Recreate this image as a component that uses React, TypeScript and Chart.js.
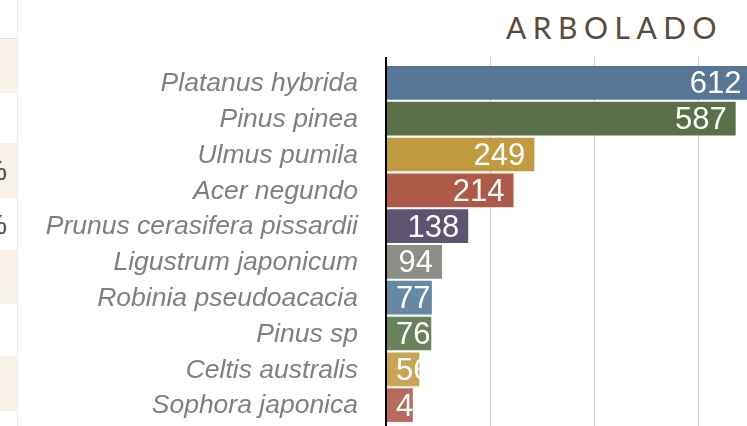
import React, { useEffect, useRef } from "react";
import { Chart, registerables } from "chart.js";

Chart.register(...registerables);

const chartTitle = "ARBOLADO";
const categories = [
  "Platanus hybrida",
  "Pinus pinea",
  "Ulmus pumila",
  "Acer negundo",
  "Prunus cerasifera pissardii",
  "Ligustrum japonicum",
  "Robinia pseudoacacia",
  "Pinus sp",
  "Celtis australis",
  "Sophora japonica",
];
const values = [612, 587, 249, 214, 138, 94, 77, 76, 56, 45];
const barColors = [
  "#577695",
  "#5b7049",
  "#c29a40",
  "#ae5a48",
  "#5e5472",
  "#8b8f88",
  "#6688a3",
  "#6a8259",
  "#c8a455",
  "#b86a5d",
];
const axisMin = 0;
const axisMax = 700;
const axisStep = 175;

// decorative fragment of the neighbouring table on the left edge
const stripRows = [
  { top: 0, h: 37, beige: false, pct: false },
  { top: 38, h: 54, beige: true, pct: false },
  { top: 92, h: 51, beige: false, pct: false },
  { top: 143, h: 54, beige: true, pct: true },
  { top: 197, h: 53, beige: false, pct: true },
  { top: 250, h: 53, beige: true, pct: false },
  { top: 303, h: 53, beige: false, pct: false },
  { top: 356, h: 54, beige: true, pct: false },
  { top: 410, h: 20, beige: false, pct: false },
];

const FONT = '"Liberation Sans", Arial, Helvetica, sans-serif';

const valueLabels = {
  id: "valueLabels",
  afterDatasetsDraw(chart: any) {
    const { ctx, chartArea } = chart;
    const meta = chart.getDatasetMeta(0);
    ctx.save();
    ctx.font = `31px ${FONT}`;
    ctx.fillStyle = "#ffffff";
    ctx.textBaseline = "alphabetic";
    ctx.textAlign = "left";
    meta.data.forEach((el: any, i: number) => {
      const { x, y, base, height } = el.getProps(["x", "y", "base", "height"], true);
      const end = Math.min(x, chartArea.right);
      const text = String(values[i]);
      const w = ctx.measureText(text).width;
      const tx = Math.max(base + 9, x - 9 - w);
      ctx.save();
      ctx.beginPath();
      ctx.rect(base, y - height / 2, end - base, height);
      ctx.clip();
      ctx.fillText(text, tx, y + 10.5);
      ctx.restore();
    });
    ctx.restore();
  },
};

const gridColor = (c: any) => (c.tick && c.tick.value === 0 ? "#000000" : "#d2d2d2");
const gridWidth = (c: any) => (c.tick && c.tick.value === 0 ? 2 : 1);

export default function App() {
  const canvasRef = useRef<HTMLCanvasElement | null>(null);

  useEffect(() => {
    const canvas = canvasRef.current;
    if (!canvas) return;
    const chart = new Chart(canvas, {
      type: "bar",
      data: {
        labels: categories,
        datasets: [
          {
            data: values,
            backgroundColor: barColors,
            borderWidth: 0,
            barPercentage: 0.94,
            categoryPercentage: 1,
          },
        ],
      },
      options: {
        indexAxis: "y",
        animation: false,
        responsive: false,
        devicePixelRatio: 1,
        layout: { autoPadding: false, padding: { top: 57, bottom: 0, left: 0, right: 0 } },
        plugins: {
          legend: { display: false },
          tooltip: { enabled: false },
          title: { display: false },
        },
        scales: {
          x: {
            type: "linear",
            position: "top",
            min: axisMin,
            max: axisMax,
            ticks: { display: false, stepSize: axisStep },
            grid: { color: gridColor, lineWidth: gridWidth, tickLength: 8, drawTicks: true },
            border: { display: false },
            afterFit: (s: any) => {
              s.height = 8;
            },
          },
          x2: {
            type: "linear",
            position: "bottom",
            min: axisMin,
            max: axisMax,
            ticks: { display: false, stepSize: axisStep },
            grid: {
              color: gridColor,
              lineWidth: gridWidth,
              tickLength: 3,
              drawTicks: true,
              drawOnChartArea: false,
            },
            border: { display: false },
            afterFit: (s: any) => {
              s.height = 3;
            },
          },
          y: {
            type: "category",
            z: 1,
            grid: { display: false, drawTicks: false },
            border: { display: true, color: "#000000", width: 2 },
            ticks: {
              color: "#7f7f7f",
              padding: 28,
              labelOffset: 1,
              autoSkip: false,
              font: { family: FONT, size: 26.5, style: "italic" },
            },
            afterFit: (s: any) => {
              s.width = 386;
              s.paddingTop = 0;
              s.paddingBottom = 0;
            },
          },
        },
      },
      plugins: [valueLabels],
    });
    return () => chart.destroy();
  }, []);

  return (
    <div
      style={{
        position: "fixed",
        left: 0,
        top: 0,
        width: 747,
        height: 426,
        overflow: "hidden",
        background: "#ffffff",
      }}
    >
      {stripRows.map((r, i) => (
        <div
          key={i}
          style={{
            position: "absolute",
            left: 0,
            top: r.top,
            width: 17,
            height: r.h,
            background: r.beige ? "#faf3ea" : "#ffffff",
            borderTop: i === 1 ? "1px solid #e2e2e2" : i > 0 ? "1px solid #f3efea" : "none",
            boxSizing: "border-box",
            overflow: "hidden",
          }}
        >
          {r.pct && (
            <div
              style={{
                position: "absolute",
                right: 10,
                top: 0,
                height: r.h,
                lineHeight: `${r.h}px`,
                fontFamily: FONT,
                fontSize: 28,
                color: "#4a4a4a",
                whiteSpace: "nowrap",
              }}
            >
              {"%"}
            </div>
          )}
        </div>
      ))}
      <div
        style={{
          position: "absolute",
          left: 17,
          top: 0,
          width: 1,
          height: 426,
          background: "#ececec",
        }}
      />
      <div
        style={{
          position: "absolute",
          left: 506,
          top: 12,
          fontFamily: "Lato, 'Open Sans', sans-serif",
          fontWeight: 400,
          fontSize: 30,
          lineHeight: "30px",
          letterSpacing: "6.5px",
          color: "#5b4b3c",
          whiteSpace: "nowrap",
        }}
      >
        {chartTitle}
      </div>
      <canvas
        ref={canvasRef}
        width={803}
        height={426}
        style={{ position: "absolute", left: 0, top: 0, display: "block", width: 803, height: 426 }}
      />
    </div>
  );
}
